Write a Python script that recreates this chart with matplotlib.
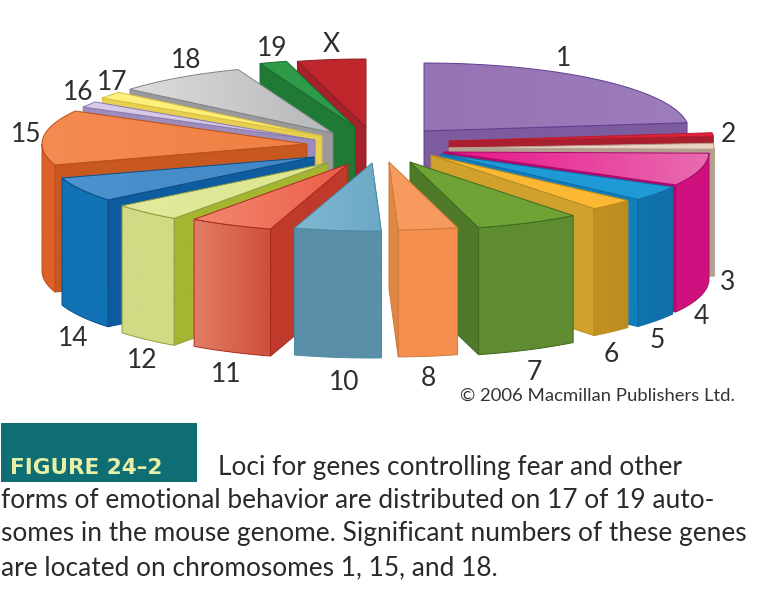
import numpy as np
import matplotlib
matplotlib.use("Agg")
import matplotlib.pyplot as plt
from matplotlib.colors import to_rgb
from matplotlib.patches import Polygon, Rectangle

# --- data: chromosomes and their share of the (projected) pie, going clockwise from 12 o'clock
chromosomes = ["1", "2", "3", "4", "5", "6", "7", "8", "10", "11", "12", "14", "15", "16", "17", "18", "19", "X"]
shares = [83, 3, 5, 28, 13, 10, 23, 13, 19, 18.5, 15.5, 21, 47, 5, 6, 29, 6, 15]

# --- layout: where each exploded wedge has its tip, in pixels
tip_x = [424, 449, 449, 444, 441, 431, 410, 389, 372, 348, 328, 314, 307, 315, 322, 333, 355, 366]
tip_y = [131, 141, 148, 152, 154, 155, 162, 162, 163, 164, 163, 157, 144, 140, 136, 133, 127, 127]
label_x = [564, 728, 728, 701, 657, 611, 534, 428, 344, 226, 142, 73, 26, 78, 112, 186, 272, 331]
label_y = [59, 134, 283, 316, 340, 355, 372, 379, 382, 375, 361, 339, 134, 93, 82, 61, 49, 45]

# --- styles: top (left, right), cut face, outer wall (left, right), outline
top_left = ["#9673B4", "#E0233A", "#E9D3C3", "#E8128A", "#1E9AD6", "#FBB833", "#6FA336", "#F79A5E", "#7FB7D0",
            "#F28770", "#E3EA9E", "#4D93CF", "#F58B52", "#D8CBE8", "#FFF080", "#DCDDDE", "#2F9A47", "#C0272D"]
top_right = ["#9D7DBB", "#E0233A", "#E9D3C3", "#E86CB0", "#1E9AD6", "#FBB833", "#6FA336", "#F79A5E", "#6CA9C6",
             "#EC5E48", "#DDE58E", "#3F86C4", "#F07F42", "#D0C2E2", "#FFEE70", "#B5B7B9", "#2F9A47", "#C0272D"]
cut_col = ["#7D5C9E", "#A8202F", "#B5A08F", "#B5096F", "#1280BD", "#D1A12D", "#4F7A28", "#DF8844", "#5A8FA8",
           "#BF3A2B", "#A5B530", "#0E5C9E", "#C9581F", "#9D8DBD", "#E8CF50", "#9A9A9A", "#1F7A35", "#A5222B"]
wall_left = ["#7D5C9E", "#A8202F", "#B5A08F", "#CF117F", "#0F75AD", "#C39123", "#5F8C30", "#F58F4F", "#5A8FA8",
             "#E37D66", "#D2DA84", "#1172B5", "#DE6028", "#9D8DBD", "#E8CF50", "#9A9A9A", "#1F7A35", "#A5222B"]
wall_right = ["#7D5C9E", "#A8202F", "#B5A08F", "#CF117F", "#0F6FA6", "#BD8C20", "#5F8C30", "#F58F4F", "#5A8FA8",
              "#CE4F3A", "#D2DA84", "#1172B5", "#DE6028", "#9D8DBD", "#E8CF50", "#9A9A9A", "#1F7A35", "#A5222B"]
line_col = ["#5F3F8F", "#B81C2C", "#B5A08F", "#A8086A", "#0D6CA6", "#B88A20", "#3F6A20", "#D07A3C", "#4C8AA6",
            "#A82A20", "#8FA040", "#0A4F8C", "#B84F1C", "#8A7AB0", "#D8BF40", "#808488", "#1A6B30", "#8E1C24"]

# back-to-front drawing order
draw_order = [0, 17, 16, 15, 14, 13, 12, 11, 10, 9, 8, 1, 2, 3, 4, 5, 6, 7]

RX, RY, DEPTH = 265, 68, 127

W, H = 772, 614
plt.rcParams["font.family"] = ["Lato", "DejaVu Sans"]
fig = plt.figure(figsize=(W / 100, H / 100), dpi=100, facecolor="white")
ax = fig.add_axes([0, 0, 1, 1])
ax.set_axis_off()

z = [1]


def paint(xs, ys, c1, c2, edge):
    """Polygon with a horizontal colour ramp and a thin outline."""
    pts = np.column_stack([xs, ys])
    z[0] += 1
    x0, x1 = min(xs), max(xs)
    if x1 - x0 < 1:
        x1 = x0 + 1
    a, b = np.array(to_rgb(c1)), np.array(to_rgb(c2))
    u = np.linspace(0, 1, 128)[None, :, None]
    grad = a[None, None, :] * (1 - u) + b[None, None, :] * u
    im = ax.imshow(grad, extent=(x0, x1, max(ys), min(ys)), aspect="auto",
                   interpolation="bilinear", zorder=z[0])
    clip = Polygon(pts, closed=True, transform=ax.transData, fc="none", ec="none")
    ax.add_patch(clip)
    im.set_clip_path(clip)
    ax.add_patch(Polygon(pts, closed=True, fc="none", ec=edge, lw=0.7, zorder=z[0] + 0.5))


def ell(i, t):
    r = np.radians(t)
    return tip_x[i] + RX * np.cos(r), tip_y[i] + RY * np.sin(r)


edges = -90 + np.concatenate([[0], np.cumsum(shares)]) * 360.0 / sum(shares)

for i in draw_order:
    t0, t1 = edges[i], edges[i + 1]
    mid = 0.5 * (t0 + t1)
    # radial cut facing the viewer
    tc = t1 if mid < 88 else t0
    ex, ey = ell(i, tc)
    paint([tip_x[i], ex, ex, tip_x[i]],
          [tip_y[i], ey, ey + DEPTH, tip_y[i] + DEPTH],
          cut_col[i], cut_col[i], line_col[i])
    # rim
    a, b = max(t0, 0), min(t1, 180)
    if b > a:
        t = np.linspace(a, b, 40)
        x, y = ell(i, t)
        paint(np.r_[x, x[::-1]], np.r_[y, y[::-1] + DEPTH],
              wall_left[i], wall_right[i], line_col[i])
    # top
    t = np.linspace(t0, t1, 60)
    x, y = ell(i, t)
    paint(np.r_[tip_x[i], x], np.r_[tip_y[i], y], top_left[i], top_right[i], line_col[i])

for name, lx, ly in zip(chromosomes, label_x, label_y):
    ax.text(lx, ly, name, ha="center", va="center", fontsize=19, color="#2E2E2E", zorder=500)

ax.text(735, 396, "\u00a9 2006 Macmillan Publishers Ltd.", ha="right", va="center",
        fontsize=13.3, color="#333333", zorder=500)

# caption
ax.add_patch(Rectangle((1, 423), 196, 59, fc="#0F6E73", ec="none", zorder=500))
ax.text(10, 468, "FIGURE 24\u20132", ha="left", va="center", fontsize=15.5, fontweight="bold",
        family="DejaVu Sans", color="#E8F0A8", zorder=501)
cap_lines = [
    (218, 467, "Loci for genes controlling fear and other"),
    (1, 500, "forms of emotional behavior are distributed on 17 of 19 auto-"),
    (1, 534, "somes in the mouse genome. Significant numbers of these genes"),
    (1, 568, "are located on chromosomes 1, 15, and 18."),
]
for cx, cy, s in cap_lines:
    ax.text(cx, cy, s, ha="left", va="center", fontsize=18.9, color="#2A2A2A", zorder=501)

ax.set_xlim(0, W)
ax.set_ylim(H, 0)
fig.savefig("out.png", dpi=100, facecolor="white")
